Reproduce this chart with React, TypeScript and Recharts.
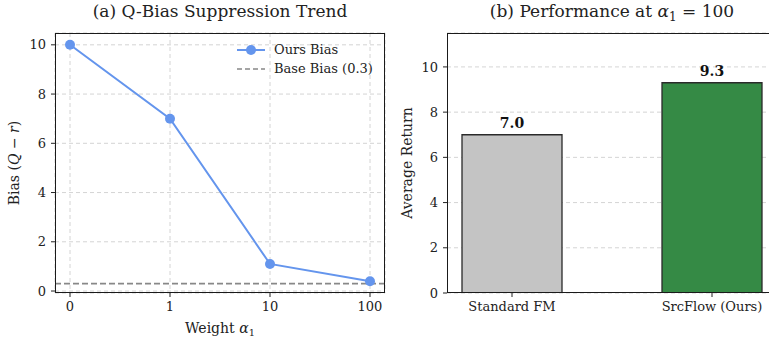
import { LineChart, Line, XAxis, YAxis, CartesianGrid, ReferenceLine, BarChart, Bar, LabelList, Cell } from 'recharts';

const weightLabels = ["0", "1", "10", "100"];
const oursBias = [10, 7, 1.1, 0.4];
const baseBias = 0.3;
const biasTicks = [0, 2, 4, 6, 8, 10];

const methods = ["Standard FM", "SrcFlow (Ours)"];
const returns = [7.0, 9.3];
const returnTicks = [0, 2, 4, 6, 8, 10];
const barColors = ["#c4c4c4", "#358a45"];

const FONT = '"DejaVu Serif", serif';
const INK = '#222';

const lineData = weightLabels.map((w, i) => ({ idx: i, bias: oursBias[i] }));
const barData = methods.map((m, i) => ({ idx: i, name: m, value: returns[i] }));

const Alpha1 = () => (
  <>
    <tspan fontStyle="italic">α</tspan>
    <tspan fontSize="0.7em" dy="0.3em">1</tspan>
  </>
);

const XLabel = ({ viewBox }: any) => {
  const { x, y, width } = viewBox;
  return (
    <text x={x + width / 2} y={y + 40} textAnchor="middle" fontFamily={FONT} fontSize={14} fill={INK}>
      Weight <Alpha1 />
    </text>
  );
};

const BiasLabel = ({ viewBox }: any) => {
  const { y, height } = viewBox;
  const cx = 14;
  const cy = y + height / 2;
  return (
    <text x={cx} y={cy} transform={`rotate(-90 ${cx} ${cy})`} textAnchor="middle" dominantBaseline="central" fontFamily={FONT} fontSize={14} fill={INK}>
      Bias (<tspan fontStyle="italic">Q</tspan> − <tspan fontStyle="italic">r</tspan>)
    </text>
  );
};

const ReturnLabel = ({ viewBox }: any) => {
  const { y, height } = viewBox;
  const cx = 17;
  const cy = y + height / 2;
  return (
    <text x={cx} y={cy} transform={`rotate(-90 ${cx} ${cy})`} textAnchor="middle" dominantBaseline="central" fontFamily={FONT} fontSize={14} fill={INK}>
      Average Return
    </text>
  );
};

const LegendBox = () => (
  <div style={{ position: 'absolute', left: 236, top: 40, fontFamily: FONT, fontSize: 13, color: INK, lineHeight: '19px' }}>
    <div style={{ display: 'flex', alignItems: 'center' }}>
      <svg width={30} height={12} style={{ marginRight: 8 }}>
        <line x1={1} y1={6} x2={29} y2={6} stroke="#6495ED" strokeWidth={2} />
        <circle cx={15} cy={6} r={5} fill="#6495ED" />
      </svg>
      Ours Bias
    </div>
    <div style={{ display: 'flex', alignItems: 'center' }}>
      <svg width={30} height={12} style={{ marginRight: 8 }}>
        <line x1={1} y1={6} x2={29} y2={6} stroke="#888" strokeWidth={1.6} strokeDasharray="5 3" />
      </svg>
      Base Bias ({baseBias})
    </div>
  </div>
);

const titleStyle = (cx: number): React.CSSProperties => ({
  position: 'absolute', top: 1, left: cx - 200, width: 400, textAlign: 'center',
  fontFamily: FONT, fontSize: 17, color: INK, whiteSpace: 'nowrap',
});

const tickStyle = { fontSize: 13, fill: INK, fontFamily: FONT, style: { fontFamily: FONT } };

export default function App() {
  return (
    <div style={{ position: 'absolute', left: 0, top: 0, width: 769, height: 337, overflow: 'hidden', background: '#fff', fontFamily: FONT }}>
      <div style={titleStyle(220)}>(a) Q-Bias Suppression Trend</div>
      <div style={titleStyle(612)}>
        (b) Performance at <i>α</i><sub style={{ fontSize: 12 }}>1</sub> = 100
      </div>

      <div style={{ position: 'absolute', left: 0, top: 0 }}>
        <LineChart width={400} height={337} data={lineData} margin={{ top: 33, right: 15, left: 0, bottom: 0 }} style={{ fontFamily: FONT }}>
          <CartesianGrid stroke="#cfcfcf" strokeDasharray="4 3" strokeWidth={0.9} />
          <XAxis
            dataKey="idx" type="number" domain={[-0.15, 3.15]} ticks={[0, 1, 2, 3]}
            tickFormatter={(v: number) => weightLabels[v]} height={44}
            axisLine={false} tickSize={4} tickMargin={5} tickLine={{ stroke: INK }}
            tick={tickStyle} label={<XLabel />} allowDataOverflow
          />
          <YAxis
            type="number" domain={[-0.08, 10.48]} ticks={biasTicks} width={55}
            axisLine={false} tickSize={4} tickMargin={5} tickLine={{ stroke: INK }}
            tick={tickStyle} label={<BiasLabel />} allowDataOverflow
          />
          <ReferenceLine y={baseBias} stroke="#888" strokeWidth={1.6} strokeDasharray="6 3" />
          <Line
            dataKey="bias" stroke="#6495ED" strokeWidth={2}
            dot={{ r: 5, fill: '#6495ED', stroke: '#6495ED', strokeWidth: 0 }}
            activeDot={false} isAnimationActive={false}
          />
        </LineChart>
        <LegendBox />
        <div style={{ position: 'absolute', left: 55, top: 33, width: 330, height: 260, boxSizing: 'border-box', border: '1.3px solid #1a1a1a', pointerEvents: 'none' }} />
      </div>

      <div style={{ position: 'absolute', left: 390, top: 0 }}>
        <BarChart width={400} height={337} data={barData} margin={{ top: 33, right: 13, left: 0, bottom: 0 }} style={{ fontFamily: FONT }}>
          <CartesianGrid stroke="#cfcfcf" strokeDasharray="4 3" strokeWidth={0.9} vertical={false} />
          <XAxis
            dataKey="idx" type="number" domain={[-0.325, 1.325]} ticks={[0, 1]}
            tickFormatter={(v: number) => methods[v]} height={44}
            axisLine={false} tickSize={4} tickMargin={5} tickLine={{ stroke: INK }}
            tick={tickStyle} allowDataOverflow
          />
          <YAxis
            type="number" domain={[0, 11.5]} ticks={returnTicks} width={57}
            axisLine={false} tickSize={4} tickMargin={5} tickLine={{ stroke: INK }}
            tick={tickStyle} label={<ReturnLabel />} allowDataOverflow
          />
          <Bar dataKey="value" barSize={100} stroke="#2a2a2a" strokeWidth={1.3} isAnimationActive={false}>
            {barData.map((d, i) => (
              <Cell key={d.name} fill={barColors[i]} />
            ))}
            <LabelList
              dataKey="value" position="top" offset={7}
              formatter={(v: any) => Number(v).toFixed(1)}
              style={{ fontFamily: FONT, fontSize: 14, fontWeight: 'bold', fill: '#111' }}
            />
          </Bar>
        </BarChart>
        <div style={{ position: 'absolute', left: 57, top: 33, width: 340, height: 260, boxSizing: 'border-box', border: '1.3px solid #1a1a1a', pointerEvents: 'none' }} />
      </div>
    </div>
  );
}
